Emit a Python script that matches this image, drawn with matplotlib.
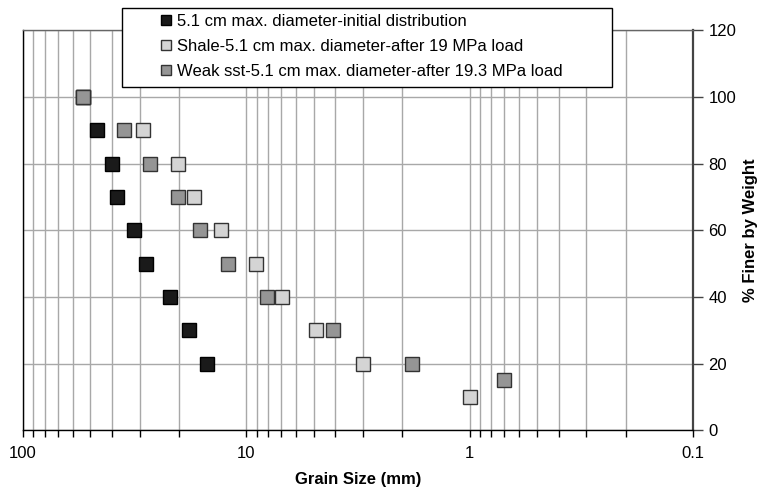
import numpy as np
import matplotlib
matplotlib.use("Agg")
import matplotlib.pyplot as plt
from matplotlib.patches import Rectangle
from matplotlib.ticker import FixedLocator, LogLocator, NullFormatter, FuncFormatter

plt.rcParams['font.family'] = ['Liberation Sans', 'DejaVu Sans']

# Grain size (mm) vs. percent finer by weight
init_size = [54, 46.5, 40, 38, 32, 28, 22, 18, 15]
init_pct = [100, 90, 80, 70, 60, 50, 40, 30, 20]

shale_size = [54, 29, 20.2, 17.1, 13.0, 9.05, 6.9, 4.9, 3.0, 1.0]
shale_pct = [100, 90, 80, 70, 60, 50, 40, 30, 20, 10]

sst_size = [54, 35.3, 27.0, 20.2, 16.2, 12.1, 8.05, 4.1, 1.81, 0.70]
sst_pct = [100, 90, 80, 70, 60, 50, 40, 30, 20, 15]

labels = ["5.1 cm max. diameter-initial distribution",
          "Shale-5.1 cm max. diameter-after 19 MPa load",
          "Weak sst-5.1 cm max. diameter-after 19.3 MPa load"]

W, H = 761, 498
fig = plt.figure(figsize=(W / 100, H / 100), dpi=100)
ax = fig.add_axes([23 / W, 1 - 430.3 / H, 670 / W, 400 / H])

ms = 9.4
ax.plot(init_size, init_pct, 's', ms=ms, mfc='#1a1a1a', mec='#000000', mew=1.0,
        label=labels[0], zorder=3)
ax.plot(shale_size, shale_pct, 's', ms=ms, mfc='#d4d4d4', mec='#333333', mew=1.0,
        label=labels[1], zorder=3)
ax.plot(sst_size, sst_pct, 's', ms=ms, mfc='#959595', mec='#333333', mew=1.0,
        label=labels[2], zorder=3)

ax.set_xscale('log')
ax.set_xlim(100, 0.1)
ax.set_ylim(0, 120)

ax.xaxis.set_major_locator(FixedLocator([100, 10, 1, 0.1]))
ax.xaxis.set_major_formatter(FuncFormatter(lambda v, p: '%g' % v))
ax.xaxis.set_minor_locator(LogLocator(base=10, subs=np.arange(2, 10)))
ax.xaxis.set_minor_formatter(NullFormatter())
ax.set_yticks(np.arange(0, 121, 20))

ax.grid(True, which='both', axis='x', color='#a8a8a8', lw=1.0)
ax.grid(True, which='major', axis='y', color='#a8a8a8', lw=1.0)
ax.set_axisbelow(True)

ax.yaxis.tick_right()
ax.yaxis.set_label_position('right')
ax.tick_params(axis='y', which='both', direction='out', length=7, width=1,
               labelsize=12, color='#444444', pad=4)
ax.tick_params(axis='x', which='both', direction='out', length=5, width=1,
               labelsize=12, pad=6)

ax.spines['left'].set_color('black')
ax.spines['bottom'].set_color('black')
ax.spines['right'].set_color('#444444')
ax.spines['right'].set_linewidth(1.6)
ax.spines['top'].set_color('#666666')
for s in ['left', 'bottom', 'top']:
    ax.spines[s].set_linewidth(1.0)

ax.set_xlabel('Grain Size (mm)', fontsize=12, fontweight='bold', labelpad=8)
ax.set_ylabel('% Finer by Weight', fontsize=12, fontweight='bold', labelpad=5)

# legend box sits across the top edge of the plot
box = Rectangle((122 / W, 1 - 87 / H), 490 / W, 79 / H, transform=fig.transFigure,
                fc='white', ec='black', lw=1.0, zorder=4, clip_on=False)
ax.add_patch(box)
leg = ax.legend(loc='upper left', bbox_to_anchor=(159 / W, 1 - 14 / H),
                bbox_transform=fig.transFigure, borderaxespad=0, borderpad=0,
                frameon=False, fontsize=12, markerscale=0.8, handlelength=0.8,
                handletextpad=0.3, labelspacing=0.6)
leg.set_zorder(5)

fig.savefig('out.png', dpi=100)
